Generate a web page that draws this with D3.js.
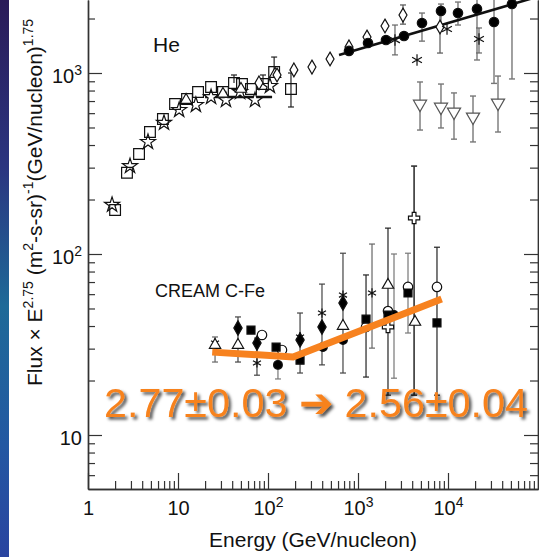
<!DOCTYPE html>
<html>
<head>
<meta charset="utf-8">
<script src="https://cdn.jsdelivr.net/npm/d3@7"></script>
<style>
  html, body { margin: 0; padding: 0; background: #fff; }
  svg { display: block; }
  text { font-family: "Liberation Sans", Arial, Helvetica, sans-serif; fill: #111; }
</style>
</head>
<body>
<svg id="chart" width="539" height="557"></svg>
<script>
// ---------- He spectrum (Flux x E^2.75) ----------
const heSquareE = [2.0, 2.71, 3.69, 4.88, 6.8, 9.27, 12.6, 16.7, 23.3, 31.6, 41.9, 51.4, 64.7, 88, 117, 180];
const heSquareF = [175, 281, 357, 472, 557, 674, 718, 785, 837, 785, 881, 869, 816, 869, 1013, 816];
const heSquareLo = [null, null, null, null, null, null, null, null, null, null, null, null, null, null, null, 649];
const heSquareHi = [null, null, null, null, null, null, null, null, null, null, 975, null, null, 975, 1225, 1000];

const heStarE = [1.85, 2.93, 4.64, 6.99, 10.3, 15.8, 23.3, 34.1, 48.9, 71.7, 105];
const heStarF = [187, 306, 416, 530, 625, 666, 737, 709, 785, 709, 848];

const heTriUpE = [12.3, 31.6, 50.1, 120];
const heTriUpF = [709, 766, 816, 987];

const heDiamondE = [79.4, 126, 194, 308, 489, 794, 1259, 1995, 3162, 8150];
const heDiamondF = [881, 975, 1040, 1079, 1195, 1393, 1580, 1818, 2090, 1795];
const heDiamondLo = [null, null, null, null, null, null, null, null, 1862, 1289];
const heDiamondHi = [null, null, null, null, null, null, null, null, 2376, 2144];

const heCircleE = [794, 1292, 2046, 3244, 5140, 8357, 12910, 21000, 32450, 51400];
const heCircleF = [1324, 1465, 1521, 1600, 1889, 2203, 2144, 2259, 1914, 2404];
const heCircleLo = [null, null, null, null, 1500, 1770, 1841, 1180, 876, 927];
const heCircleHi = [null, null, null, null, 2144, 2404, 2466, 2700, 2700, 2700];

const heAsteriskE = [2576, 4526, 9750, 22100];
const heAsteriskF = [1521, 1180, 1750, 1541];
const heAsteriskLo = [1259, null, null, 1290];
const heAsteriskHi = [1841, null, null, 1773];

const heTriDownE = [4887, 8357, 11660, 18960, 35940];
const heTriDownF = [674, 649, 610, 572, 683];
const heTriDownLo = [484, 497, 431, 416, 472];
const heTriDownHi = [892, 869, 776, 746, 962];

// power-law fits to He
const heFitLowE = [20, 111];
const heFitLowF = [737, 737];
const heFitHighE = [616, 100000];
const heFitHighF = [1257, 2643];

// ---------- CREAM C-Fe (Flux x E^2.75) ----------
const cfSquareE = [64.7, 123, 227, 1228, 2154, 3594, 7543];
const cfSquareF = [38.0, 30.6, 25.9, 43.7, 46.0, 60.9, 41.6];
const cfSquareLo = [null, null, null, 20.9, 16.6, null, 16.6];
const cfSquareHi = [null, null, null, 76.6, 139, null, 109];

const cfDiamondE = [46.4, 75.4, 227, 398, 681];
const cfDiamondF = [39.0, 32.2, 33.5, 39.5, 53.6];
const cfDiamondLo = [25.3, 21.4, 22.0, 24.4, 22.0];
const cfDiamondHi = [44.9, 34.3, 47.2, 68.2, 101];

const cfOpenCircleE = [85.8, 143, 1228, 2154, 3594, 7543];
const cfOpenCircleF = [35.7, 29.5, 39.5, 48.4, 65.8, 65.8];
const cfOpenCircleLo = [null, null, null, null, 36.6, null];
const cfOpenCircleHi = [null, null, null, null, 101, null];

const cfTriE = [25.8, 46.4, 681, 2154, 4300];
const cfTriF = [31.4, 31.4, 40.0, 67.4, 42.1];

const cfAsteriskE = [25.8, 75.4, 227, 398, 681, 1431];
const cfAsteriskF = [32.2, 25.0, 34.8, 47.2, 59.3, 60.9];
const cfAsteriskLo = [25.3, null, null, null, null, 30.2];
const cfAsteriskHi = [34.8, null, null, null, null, 113.5];

const cfFilledCircleE = [129, 408, 681, 2512];
const cfFilledCircleF = [24.4, 30.6, 33.5, 46.0];
const cfFilledCircleLo = [20.4, null, null, 20.6];
const cfFilledCircleHi = [27.0, null, null, 100];

const cfCrossE = [4200, 2154];
const cfCrossF = [158, 39.5];
const cfCrossLo = [16.6, null];
const cfCrossHi = [306, null];

// broken power-law fit to C-Fe
const cfFitE = [24, 190, 8500];
const cfFitF = [28.7, 27.0, 56.4];

// axis ticks
const xMajor = [1, 10, 100, 1000, 10000];
const xMajorExp = [null, null, "2", "3", "4"];
const yMajor = [10, 100, 1000];
const yMajorExp = [null, "2", "3"];

// ---------- layout ----------
const W = 539, H = 557;
const svg = d3.select("#chart");
const x = d3.scaleLog().domain([1, 1e5]).range([88, 538]);
const yRef = d3.scaleLog().domain([10, 1000]).range([435, 73]);
const y = d3.scaleLog().domain([yRef.invert(489), yRef.invert(0)]).range([489, 0]);

const defs = svg.append("defs");
const grad = defs.append("linearGradient").attr("id", "edge").attr("x1", 0).attr("y1", 0).attr("x2", 0).attr("y2", 1);
[["0%", "#2a1b58"], ["30%", "#2b3580"], ["55%", "#1e6a98"], ["80%", "#2358a2"], ["100%", "#2a44a0"]]
  .forEach(([o, c]) => grad.append("stop").attr("offset", o).attr("stop-color", c));
const shadow = defs.append("filter").attr("id", "shadow").attr("x", "-5%").attr("y", "-20%").attr("width", "115%").attr("height", "150%");
shadow.append("feDropShadow").attr("dx", 2.5).attr("dy", 2.5).attr("stdDeviation", 1.8)
  .attr("flood-color", "#000").attr("flood-opacity", 0.7);
defs.append("clipPath").attr("id", "plot").append("rect").attr("x", 88).attr("y", 0).attr("width", 450).attr("height", 489);

svg.append("rect").attr("width", W).attr("height", H).attr("fill", "#fff");
svg.append("rect").attr("width", 9).attr("height", H).attr("fill", "url(#edge)");

// ---------- axes ----------
const minorOf = (lo, hi) => {
  const out = [];
  for (let d = lo; d < hi; d *= 10) for (let k = 2; k <= 9; k++) out.push(d * k);
  return out;
};
const xMinor = minorOf(1, 1e5);
const yMinor = minorOf(1, 1e4).filter(v => v >= y.domain()[0] && v <= y.domain()[1]);

function styleAxis(g) {
  g.selectAll("path.domain").attr("stroke", "#333").attr("stroke-width", 1.4);
  g.selectAll(".tick line").attr("stroke", "#333").attr("stroke-width", 1.2);
}

const gxMinor = svg.append("g").attr("transform", "translate(0,489)")
  .call(d3.axisBottom(x).tickValues(xMinor).tickSize(-8).tickSizeOuter(0).tickFormat(""));
const gx = svg.append("g").attr("transform", "translate(0,489)")
  .call(d3.axisBottom(x).tickValues(xMajor).tickSize(-16).tickSizeOuter(0).tickPadding(12));
[gxMinor, gx].forEach(styleAxis);
gx.selectAll(".tick text").each(function (d, i) {
  const t = d3.select(this).text(null).attr("font-size", 20).attr("fill", "#111").attr("font-family", "Liberation Sans, Arial, sans-serif");
  t.append("tspan").text(d === 1 ? "1" : "10");
  if (xMajorExp[i]) t.append("tspan").attr("dy", -8).attr("font-size", 14).text(xMajorExp[i]);
});

const gyMinor = svg.append("g").attr("transform", "translate(88,0)")
  .call(d3.axisLeft(y).tickValues(yMinor).tickSize(-7).tickSizeOuter(0).tickFormat(""));
const gy = svg.append("g").attr("transform", "translate(88,0)")
  .call(d3.axisLeft(y).tickValues(yMajor).tickSize(-14).tickSizeOuter(0).tickPadding(6));
[gyMinor, gy].forEach(styleAxis);
gy.selectAll(".tick text").each(function (d, i) {
  const t = d3.select(this).text(null).attr("font-size", 20).attr("fill", "#111").attr("dy", "0.45em")
    .attr("font-family", "Liberation Sans, Arial, sans-serif");
  t.append("tspan").text("10");
  if (yMajorExp[i]) t.append("tspan").attr("dy", -8).attr("font-size", 14).text(yMajorExp[i]);
});

const gyrMinor = svg.append("g").attr("transform", "translate(538,0)")
  .call(d3.axisRight(y).tickValues(yMinor).tickSize(-8).tickSizeOuter(0).tickFormat(""));
const gyr = svg.append("g").attr("transform", "translate(538,0)")
  .call(d3.axisRight(y).tickValues(yMajor).tickSize(-14).tickSizeOuter(0).tickFormat(""));
[gyrMinor, gyr].forEach(styleAxis);

// axis titles
svg.append("text").attr("x", 313).attr("y", 547).attr("text-anchor", "middle").attr("font-size", 21)
  .text("Energy (GeV/nucleon)");
const yt = svg.append("text").attr("transform", "translate(42,386) rotate(-90)").attr("font-size", 21);
yt.append("tspan").text("Flux \u00d7 E");
yt.append("tspan").attr("dy", -9).attr("font-size", 14).text("2.75");
yt.append("tspan").attr("dy", 9).text(" (m");
yt.append("tspan").attr("dy", -9).attr("font-size", 14).text("2");
yt.append("tspan").attr("dy", 9).text("-s-sr)");
yt.append("tspan").attr("dy", -9).attr("font-size", 14).text("-1");
yt.append("tspan").attr("dy", 9).text("(GeV/nucleon)");
yt.append("tspan").attr("dy", -9).attr("font-size", 14).text("1.75");

svg.append("text").attr("x", 153).attr("y", 52).attr("font-size", 21).text("He");
svg.append("text").attr("x", 155).attr("y", 297).attr("font-size", 18).text("CREAM C-Fe");

// ---------- marks ----------
const plot = svg.append("g").attr("clip-path", "url(#plot)");
const zip = (E, F, Lo, Hi) => E.map((e, i) => ({ e, f: F[i], lo: Lo ? Lo[i] : null, hi: Hi ? Hi[i] : null }));

function errorBars(data, color, width) {
  const g = plot.append("g").attr("stroke", color).attr("stroke-width", width || 1.2).attr("fill", "none");
  data.filter(d => d.lo != null || d.hi != null).forEach(d => {
    const cx = x(d.e);
    const top = y(d.hi != null ? d.hi : d.f), bot = y(d.lo != null ? d.lo : d.f);
    g.append("line").attr("x1", cx).attr("x2", cx).attr("y1", top).attr("y2", bot);
    if (d.hi != null) g.append("line").attr("x1", cx - 3).attr("x2", cx + 3).attr("y1", top).attr("y2", top);
    if (d.lo != null) g.append("line").attr("x1", cx - 3).attr("x2", cx + 3).attr("y1", bot).attr("y2", bot);
  });
}

function markers(data, type, size, fill, rotate, stroke) {
  const sym = d3.symbol().type(type).size(size);
  plot.append("g").selectAll("path").data(data).join("path")
    .attr("d", sym)
    .attr("transform", d => `translate(${x(d.e)},${y(d.f)})` + (rotate ? ` rotate(${rotate})` : ""))
    .attr("fill", fill)
    .attr("stroke", stroke || "#111")
    .attr("stroke-width", 1.2);
}

function fitLine(E, F, color, width) {
  plot.append("path").datum(E.map((e, i) => [e, F[i]]))
    .attr("d", d3.line().x(d => x(d[0])).y(d => y(d[1])))
    .attr("fill", "none").attr("stroke", color).attr("stroke-width", width);
}

// He
const heSq = zip(heSquareE, heSquareF, heSquareLo, heSquareHi);
const heDi = zip(heDiamondE, heDiamondF, heDiamondLo, heDiamondHi);
const heCi = zip(heCircleE, heCircleF, heCircleLo, heCircleHi);
const heAs = zip(heAsteriskE, heAsteriskF, heAsteriskLo, heAsteriskHi);
const heTd = zip(heTriDownE, heTriDownF, heTriDownLo, heTriDownHi);
errorBars(heSq, "#222");
errorBars(heDi, "#555");
errorBars(heCi, "#777", 1.4);
errorBars(heAs, "#666");
errorBars(heTd, "#777", 1.4);

fitLine(heFitLowE, heFitLowF, "#111", 2.6);
fitLine(heFitHighE, heFitHighF, "#111", 2.6);

markers(zip(heStarE, heStarF), d3.symbolStar, 70, "#fff");
markers(heSq, d3.symbolSquare, 115, "none");
markers(zip(heTriUpE, heTriUpF), d3.symbolTriangle, 55, "#fff");
markers(heDi, d3.symbolDiamond, 55, "#fff");
markers(heCi, d3.symbolCircle, 70, "#000");
markers(heAs, d3.symbolAsterisk, 90, "none");
markers(heTd, d3.symbolTriangle, 75, "#fff", 180, "#555");

// C-Fe
const cfSq = zip(cfSquareE, cfSquareF, cfSquareLo, cfSquareHi);
const cfDi = zip(cfDiamondE, cfDiamondF, cfDiamondLo, cfDiamondHi);
const cfOc = zip(cfOpenCircleE, cfOpenCircleF, cfOpenCircleLo, cfOpenCircleHi);
const cfTr = zip(cfTriE, cfTriF);
const cfAs = zip(cfAsteriskE, cfAsteriskF, cfAsteriskLo, cfAsteriskHi);
const cfFc = zip(cfFilledCircleE, cfFilledCircleF, cfFilledCircleLo, cfFilledCircleHi);
const cfCr = zip(cfCrossE, cfCrossF, cfCrossLo, cfCrossHi);
errorBars(cfDi, "#444");
errorBars(cfSq, "#222");
errorBars(cfOc, "#777");
errorBars(cfAs, "#666");
errorBars(cfFc, "#777");
errorBars(cfCr, "#333", 1.6);

markers(cfAs, d3.symbolAsterisk, 60, "none");
markers(cfTr, d3.symbolTriangle, 55, "#fff");
markers(cfOc, d3.symbolCircle, 70, "#fff");
markers(cfFc, d3.symbolCircle, 60, "#000");
markers(cfDi, d3.symbolDiamond, 60, "#000");
markers(cfSq, d3.symbolSquare, 64, "#000");
markers(cfCr, d3.symbolCross, 70, "#fff");

fitLine(cfFitE, cfFitF, "#f7821f", 7);

// spectral index annotation
svg.append("text")
  .attr("x", 104).attr("y", 417)
  .attr("font-family", "'Open Sans', 'DejaVu Sans', sans-serif")
  .attr("font-size", 41)
  .attr("fill", "#f7821f")
  .attr("filter", "url(#shadow)")
  .attr("textLength", 424).attr("lengthAdjust", "spacingAndGlyphs")
  .style("fill", "#f7821f")
  .text("2.77\u00b10.03 \u2794 2.56\u00b10.04");
</script>
</body>
</html>
